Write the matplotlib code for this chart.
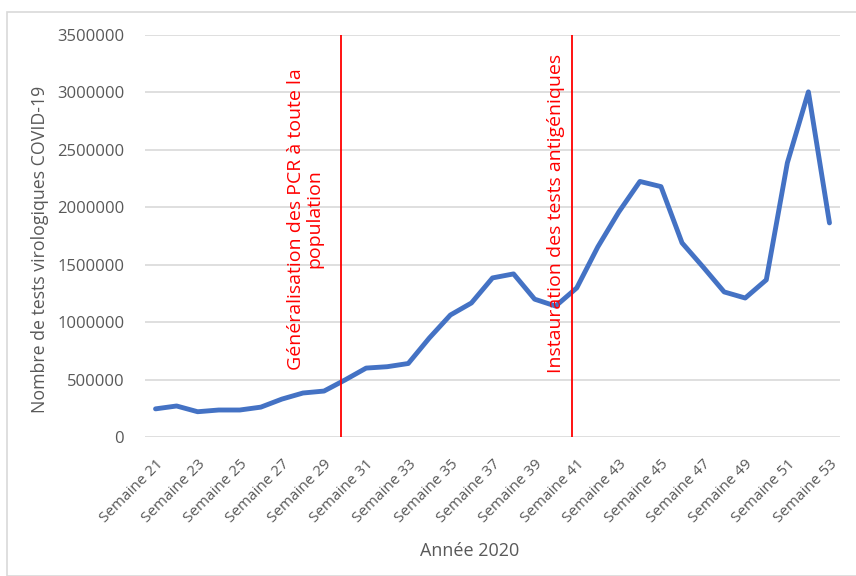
import matplotlib
matplotlib.use("Agg")
import matplotlib.pyplot as plt
from matplotlib.patches import Rectangle

weeks = list(range(21, 54))
week_labels = [f"Semaine {w}" for w in weeks]
tests = [245000, 270000, 220000, 235000, 235000, 260000, 330000, 383000, 400000,
         497000, 600000, 612000, 640000, 862000, 1062000, 1167000, 1385000,
         1420000, 1200000, 1140000, 1298000, 1655000, 1960000, 2225000, 2180000,
         1690000, 1480000, 1263000, 1210000, 1368000, 2387000, 3005000, 1864000]
y_ticks = [0, 500000, 1000000, 1500000, 2000000, 2500000, 3000000, 3500000]

event_pos = [8.8, 19.78]
event_texts = ["Généralisation des PCR à toute la\npopulation",
               "Instauration des tests antigéniques"]

plt.rcParams['font.family'] = ['Open Sans', 'DejaVu Sans']
W, H = 856, 576
fig = plt.figure(figsize=(W/100, H/100), dpi=100)
fig.patches.append(Rectangle((7/W, 0), 1, 1 - 12/H, transform=fig.transFigure,
                             fill=False, edgecolor='#D9D9D9', linewidth=1.2))
ax = fig.add_axes([145/W, 1 - 437/H, (840-145)/W, (437-35)/H])
x = list(range(len(weeks)))
ax.plot(x, tests, color='#4472C4', linewidth=3.5, solid_capstyle='round', zorder=3)
ax.set_xlim(-0.5, len(weeks) - 0.5)
ax.set_ylim(0, 3500000)
ax.set_yticks(y_ticks)
ax.set_yticklabels([str(v) for v in y_ticks], fontsize=12, color='#595959')
ax.set_xticks(x[::2])
ax.set_xticklabels(week_labels[::2], rotation=45, ha='right', rotation_mode='anchor',
                   fontsize=11, color='#595959')
ax.tick_params(axis='y', length=0, pad=15)
ax.tick_params(axis='x', length=0, pad=14)
ax.grid(axis='y', color='#D9D9D9', linewidth=1.2)
ax.set_axisbelow(True)
for s in ax.spines.values():
    s.set_visible(False)

for p in event_pos:
    ax.axvline(p, color='#FF0000', linewidth=1.3, zorder=4)

ax.text(305, H - 219, event_texts[0], transform=None, fontsize=14, color='#FF0000',
        rotation=90, ha='center', va='center', multialignment='center',
        linespacing=1.05)
ax.text(556, H - 213, event_texts[1], transform=None, fontsize=14, color='#FF0000',
        rotation=90, ha='center', va='center')

fig.text(40/W, 1 - 249/H, "Nombre de tests virologiques COVID-19", rotation=90,
         ha='center', va='center', fontsize=12.8, color='#595959')
fig.text(470/W, 1 - 551/H, "Année 2020", ha='center', va='center',
         fontsize=13, color='#595959')

fig.savefig("out.png", dpi=100)
